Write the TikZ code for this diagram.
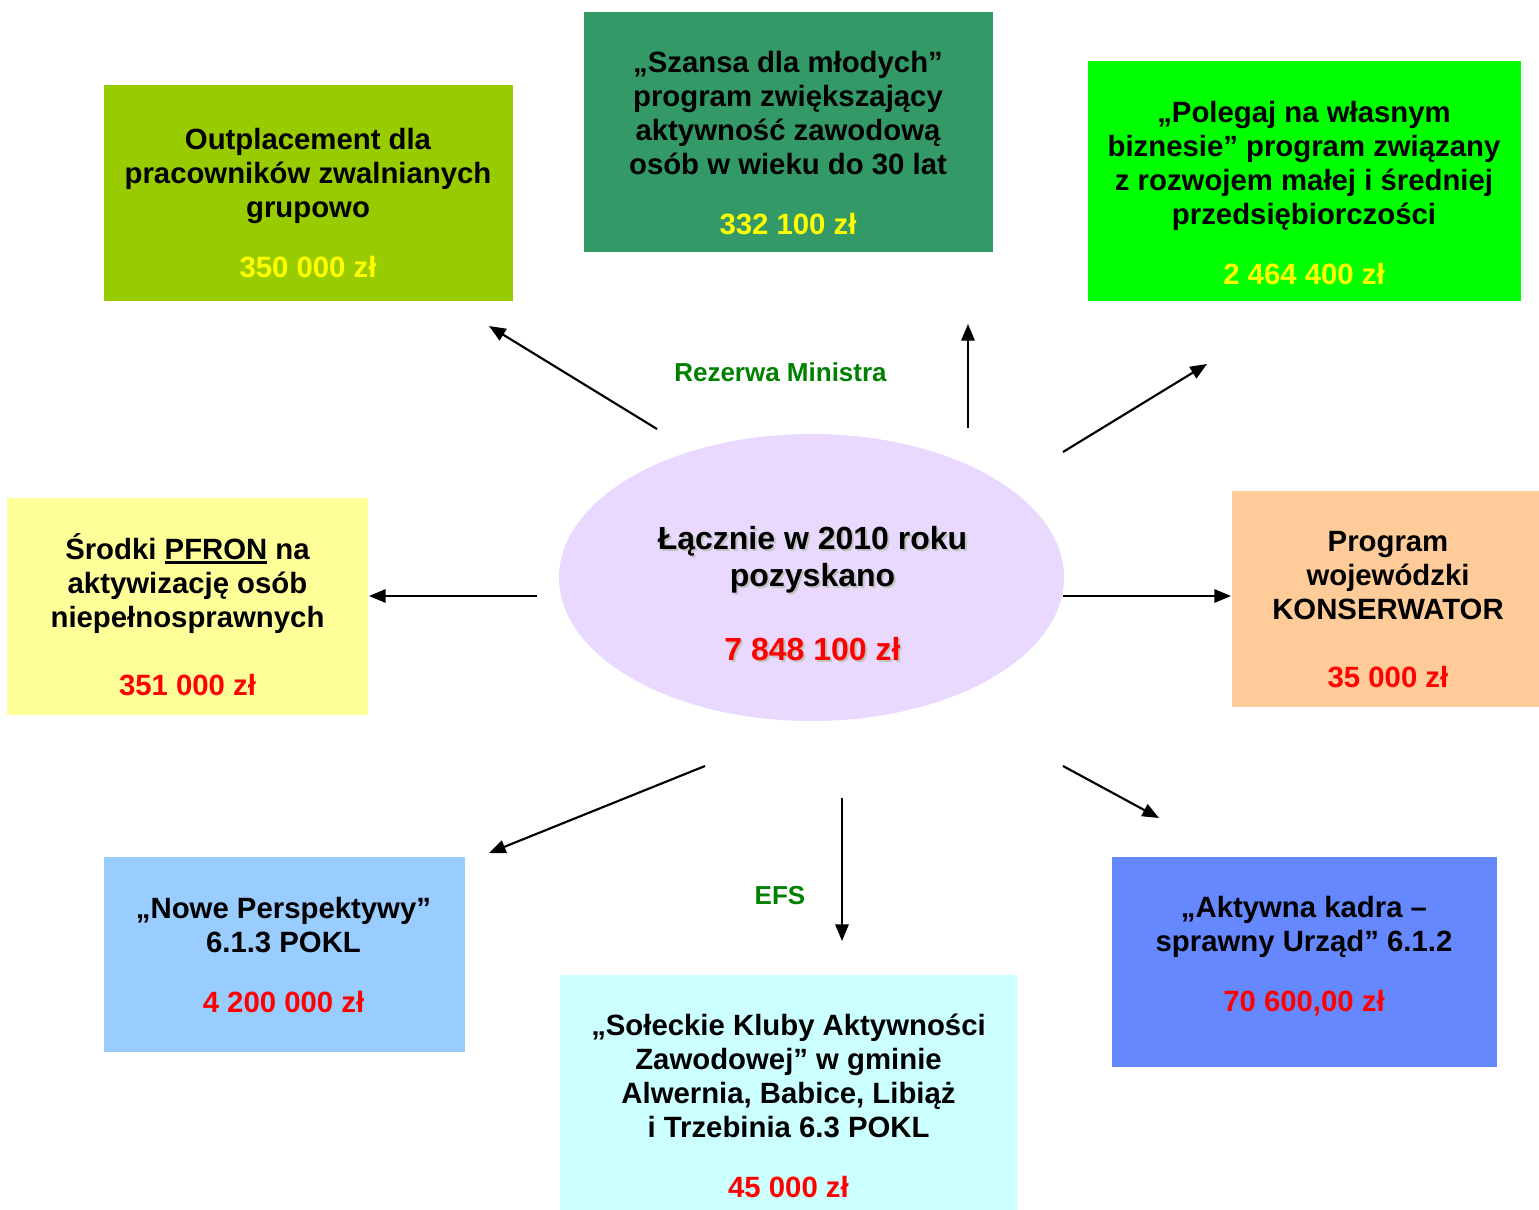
\documentclass[tikz,border=0pt]{standalone}
\usepackage{fontspec}
\setmainfont{Liberation Sans}
\usetikzlibrary{arrows.meta,shapes.geometric}

\definecolor{outplgreen}{RGB}{153,204,0}
\definecolor{szansagreen}{RGB}{51,153,102}
\definecolor{polegajgreen}{RGB}{0,255,0}
\definecolor{pfronyellow}{RGB}{255,255,153}
\definecolor{konsorange}{RGB}{255,204,153}
\definecolor{noweblue}{RGB}{153,204,255}
\definecolor{soleckcyan}{RGB}{204,255,255}
\definecolor{aktywblue}{RGB}{102,136,255}
\definecolor{elllilac}{RGB}{234,217,255}
\definecolor{kwotared}{RGB}{255,0,0}
\definecolor{kwotayellow}{RGB}{255,255,0}
\definecolor{labelgreen}{RGB}{0,128,0}
\definecolor{cien}{RGB}{195,195,195}

% gruba linia pod tekstem
\newcommand{\podkresl}[1]{\setbox0\hbox{#1}\rlap{\rule[-3.2pt]{\wd0}{1.8pt}}\box0\relax}
% tekst w elipsie (kolor kwoty jako argument)
\newcommand{\razemtekst}[1]{Łącznie w 2010 roku\\pozyskano\\[27.75pt]\textcolor{#1}{7 848 100 zł}}

\tikzset{
	box/.style={rectangle, inner sep=0pt},
	txt/.style={inner sep=0pt, align=center, font=\bfseries\fontsize{22}{25.5}\selectfont},
	src/.style={inner sep=0pt, font=\bfseries\fontsize{19.5}{23}\selectfont, text=labelgreen},
	arr/.style={-{Triangle[length=12.5pt,width=10pt]}, line width=1.6pt}
}

\begin{document}
\begin{tikzpicture}[x=0.75pt, y=-0.75pt]
			\useasboundingbox (0,0) rectangle (1539,1210);

			% pola
			\node[box, fill=outplgreen, minimum width=409*0.75pt, minimum height=216*0.75pt] (outpl) at (308.5,193) {};
			\node[box, fill=szansagreen, minimum width=409*0.75pt, minimum height=240*0.75pt] (szansa) at (788.5,132) {};
			\node[box, fill=polegajgreen, minimum width=433*0.75pt, minimum height=240*0.75pt] (polegaj) at (1304.5,181) {};
			\node[box, fill=pfronyellow, minimum width=361*0.75pt, minimum height=217*0.75pt] (pfron) at (187.5,606.5) {};
			\node[box, fill=konsorange, minimum width=307*0.75pt, minimum height=216*0.75pt] (kons) at (1385.5,599) {};
			\node[box, fill=noweblue, minimum width=361*0.75pt, minimum height=195*0.75pt] (nowe) at (284.5,954.5) {};
			\node[box, fill=soleckcyan, minimum width=457*0.75pt, minimum height=235*0.75pt] (soleck) at (788.5,1092.5) {};
			\node[box, fill=aktywblue, minimum width=385*0.75pt, minimum height=210*0.75pt] (aktyw) at (1304.5,962) {};
			\node[ellipse, fill=elllilac, inner sep=0pt, minimum width=505*0.75pt, minimum height=287*0.75pt] (razem) at (811.5,577.5) {};

			% teksty
			\node[txt] (outplText) at (308,203) {Outplacement dla\\pracowników zwalnianych\\grupowo\\[19.5pt]\textcolor{kwotayellow}{350 000 zł}};
			\node[txt] (szansaText) at (788,143.5) {„Szansa dla młodych”\\program zwiększający\\aktywność zawodową\\osób w wieku do 30 lat\\[19.5pt]\textcolor{kwotayellow}{332 100 zł}};
			\node[txt] (polegajText) at (1304,193) {„Polegaj na własnym\\biznesie” program związany\\z rozwojem małej i średniej\\przedsiębiorczości\\[19.5pt]\textcolor{kwotayellow}{2 464 400 zł}};
			\node[txt] (pfronText) at (187.5,614.5) {Środki \podkresl{PFRON} na\\aktywizację osób\\niepełnosprawnych\\[25.5pt]\textcolor{kwotared}{351 000 zł}};
			\node[txt] (konsText) at (1388,610) {Program\\wojewódzki\\KONSERWATOR\\[25.5pt]\textcolor{kwotared}{35 000 zł}};
			\node[txt] (noweText) at (283.5,955) {„Nowe Perspektywy”\\6.1.3 POKL\\[19.5pt]\textcolor{kwotared}{4 200 000 zł}};
			\node[txt] (soleckText) at (788.5,1106) {„Sołeckie Kluby Aktywności\\Zawodowej” w gminie\\Alwernia, Babice, Libiąż\\i Trzebinia 6.3 POKL\\[19.5pt]\textcolor{kwotared}{45 000 zł}};
			\node[txt] (aktywText) at (1304,956) {„Aktywna kadra –\\sprawny Urząd” 6.1.2\\[19.5pt]\textcolor{kwotared}{70 600,00 zł}};
			\node[txt, font=\bfseries\fontsize{24}{27.75}\selectfont, text=cien] (razemCien) at (814.5,595.5) {\razemtekst{cien}};
			\node[txt, font=\bfseries\fontsize{24}{27.75}\selectfont] (razemText) at (812.5,593.5) {\razemtekst{kwotared}};

			% zrodla
			\node[src] (rezerwa) at (780.5,372) {Rezerwa Ministra};
			\node[src] (efs) at (780,896) {EFS};

			% strzalki
			\coordinate (t1) at (657,429);  \coordinate (h1) at (489,326);
			\coordinate (t2) at (968,428);  \coordinate (h2) at (968,324);
			\coordinate (t3) at (1063,452); \coordinate (h3) at (1207,364);
			\coordinate (t4) at (537,596);  \coordinate (h4) at (369,596);
			\coordinate (t5) at (1063,596); \coordinate (h5) at (1231,596);
			\coordinate (t6) at (705,766);  \coordinate (h6) at (489,853);
			\coordinate (t7) at (842,798);  \coordinate (h7) at (842,941);
			\coordinate (t8) at (1063,766); \coordinate (h8) at (1159,818);

			\foreach \i in {1,...,8}
			\draw[arr] (t\i) -- (h\i);
		\end{tikzpicture}
\end{document}
